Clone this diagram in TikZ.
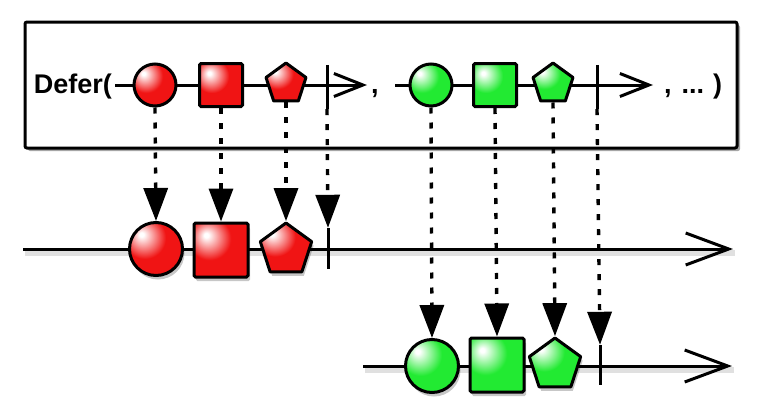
\documentclass[tikz,border=0pt]{standalone}
\usepackage{fontspec}
\setmainfont{Liberation Sans}
\usetikzlibrary{arrows.meta,shapes.geometric,shadows}
\definecolor{myred}{RGB}{240,20,20}
\definecolor{mygreen}{RGB}{34,234,50}
\pgfdeclareradialshading{redglow}{\pgfpoint{-14bp}{14bp}}{color(0bp)=(white); color(2bp)=(white); color(20bp)=(myred); color(52bp)=(myred); color(85bp)=(myred!35!black)}
\pgfdeclareradialshading{greenglow}{\pgfpoint{-14bp}{14bp}}{color(0bp)=(white); color(2bp)=(white); color(20bp)=(mygreen); color(52bp)=(mygreen); color(85bp)=(mygreen!35!black)}
\tikzset{
  frame/.style={draw=black, line width=3pt, fill=white, rounded corners=2pt, minimum width=712pt, minimum height=126pt, inner sep=0pt,
    drop shadow={shadow xshift=3pt, shadow yshift=-3pt, opacity=0.35, fill=black}},
  tl/.style={line width=3pt, draw=black},
  tlshadow/.style={line width=6pt, draw=black, opacity=0.12},
  shp/.style={draw=black, line width=3pt, inner sep=0pt},
  circ/.style={shp, circle},
  sq/.style={shp, rectangle, rounded corners=1.5pt},
  pent/.style={shp, regular polygon, regular polygon sides=5, line join=round},
  red/.style={shade, shading=redglow},
  green/.style={shade, shading=greenglow},
  shadowed/.style={drop shadow={shadow xshift=2pt, shadow yshift=-4pt, opacity=0.22, fill=black}},
  tickn/.style={rectangle, draw=none, inner sep=0pt, minimum width=0pt},
  tickl/.style={line width=3pt, draw=black},
  dot/.style={line width=3.4pt, draw=black, dash pattern=on 6pt off 9pt, -{Triangle[width=24pt,length=33pt]}},
  lbl/.style={font=\bfseries\fontsize{27}{27}\selectfont, inner sep=0pt},
  smallhead/.style={-{Straight Barb[length=29pt,width=23pt]}},
  bighead/.style={-{Straight Barb[length=43pt,width=32pt]}}
}
\begin{document}
\begin{tikzpicture}[x=1pt,y=-1pt]
\useasboundingbox (0,0) rectangle (769,407);
% frame
\node[frame] (frame) at (381,85) {};
% top timelines
\coordinate (r0) at (115,85); \coordinate (r1) at (367,85);
\coordinate (g0) at (395,85); \coordinate (g1) at (653,85);
\draw[tl, smallhead] (r0) -- (r1);
\draw[tl, smallhead] (g0) -- (g1);
\node[lbl, anchor=base east] (defer) at (112,93) {Defer(};
\node[lbl, anchor=base west] (comma) at (371,93) {,};
\node[lbl, anchor=base west] (rest) at (664,93) {,\hspace{10pt}...\hspace{9pt})};
% top red
\node[circ, red, minimum size=42pt] (rc1) at (155,85) {};
\node[sq, red, minimum size=43pt] (rs1) at (221,85) {};
\node[pent, red, minimum size=42pt] (rp1) at (286,84) {};
\node[tickn, minimum height=44pt] (rt1) at (327,87) {};
\draw[tickl] (rt1.north) -- (rt1.south);
% top green
\node[circ, green, minimum size=42pt] (gc1) at (431,85) {};
\node[sq, green, minimum size=43pt] (gs1) at (495,85) {};
\node[pent, green, minimum size=42pt] (gp1) at (553,84) {};
\node[tickn, minimum height=44pt] (gt1) at (597,87) {};
\draw[tickl] (gt1.north) -- (gt1.south);
% second timeline
\coordinate (a0) at (23,249); \coordinate (a1) at (733,249);
\draw[tlshadow, transform canvas={shift={(2pt,-4pt)}}] (a0) -- (a1);
\draw[tl, bighead] (a0) -- (a1);
\node[circ, red, shadowed, minimum size=53pt] (rc2) at (156,249) {};
\node[sq, red, shadowed, minimum size=54pt] (rs2) at (221,250) {};
\node[pent, red, shadowed, minimum size=54pt] (rp2) at (286,250) {};
\node[tickn, minimum height=41pt] (rt2) at (328,248.5) {};
\draw[tickl] (rt2.north) -- (rt2.south);
% third timeline
\coordinate (b0) at (363,366); \coordinate (b1) at (732,366);
\draw[tlshadow, transform canvas={shift={(2pt,-4pt)}}] (b0) -- (b1);
\draw[tl, bighead] (b0) -- (b1);
\node[circ, green, shadowed, minimum size=53pt] (gc2) at (432,366) {};
\node[sq, green, shadowed, minimum size=54pt] (gs2) at (497,365) {};
\node[pent, green, shadowed, minimum size=54pt] (gp2) at (555,365) {};
\node[tickn, minimum height=40pt] (gt2) at (600,365) {};
\draw[tickl] (gt2.north) -- (gt2.south);
% dotted connectors
\draw[dot] (rc1.south) -- (rc2.north);
\draw[dot] (rs1.south) -- (rs2.north);
\draw[dot] (rp1.south) -- (rp2.north);
\draw[dot] (rt1.south) -- (rt2.north);
\draw[dot] (gc1.south) -- (gc2.north);
\draw[dot] (gs1.south) -- (gs2.north);
\draw[dot] (gp1.south) -- (gp2.north);
\draw[dot] (gt1.south) -- (gt2.north);
\end{tikzpicture}
\end{document}
